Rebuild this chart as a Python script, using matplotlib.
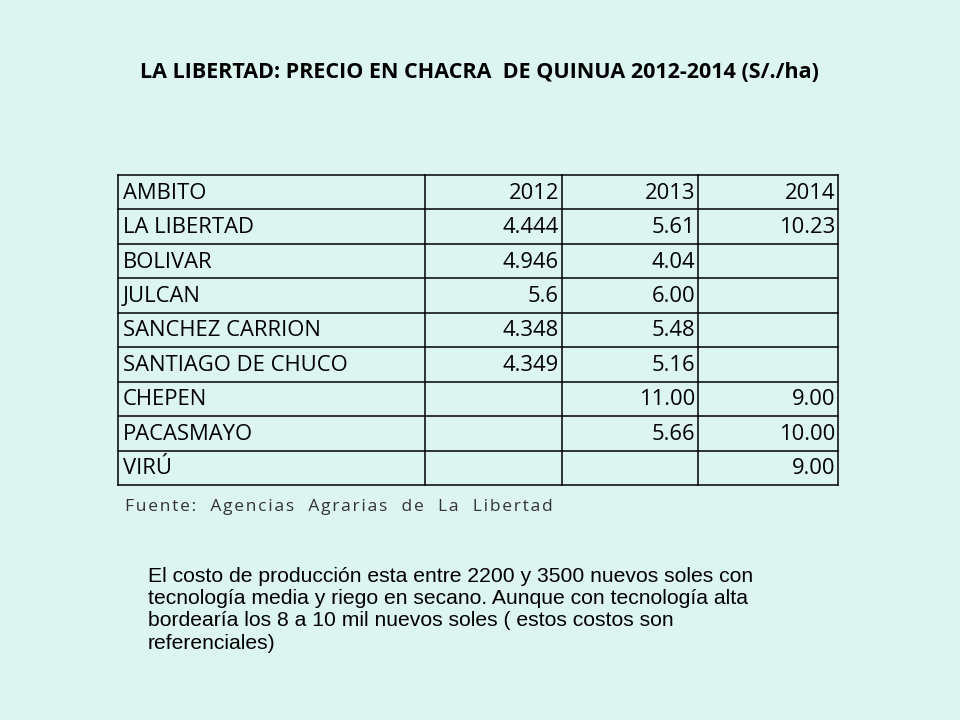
import matplotlib
matplotlib.use("Agg")
import matplotlib.pyplot as plt

title = "LA LIBERTAD: PRECIO EN CHACRA  DE QUINUA 2012-2014 (S/./ha)"
header = ["AMBITO", "2012", "2013", "2014"]
ambitos = ["LA LIBERTAD", "BOLIVAR", "JULCAN", "SANCHEZ CARRION", "SANTIAGO DE CHUCO",
           "CHEPEN", "PACASMAYO", "VIRÚ"]
v2012 = ["4.444", "4.946", "5.6", "4.348", "4.349", "", "", ""]
v2013 = ["5.61", "4.04", "6.00", "5.48", "5.16", "11.00", "5.66", ""]
v2014 = ["10.23", "", "", "", "", "9.00", "10.00", "9.00"]
fuente = "Fuente: Agencias Agrarias de La Libertad"
note = ["El costo de producción esta entre 2200 y 3500 nuevos soles con",
        "tecnología media y riego en secano. Aunque con tecnología alta",
        "bordearía los 8 a 10 mil nuevos soles ( estos costos son",
        "referenciales)"]

bg = "#dcf5f0"
fig = plt.figure(figsize=(9.6, 7.2), dpi=100, facecolor=bg)
ax = fig.add_axes([0, 0, 1, 1])
ax.set_xlim(0, 960); ax.set_ylim(720, 0); ax.axis("off")
ax.set_facecolor(bg)

ax.text(479, 72, title, ha="center", va="center", fontsize=15.5, fontweight="bold",
        family="Open Sans", color="black")

cols = [118, 425, 562, 698, 838]
top, bot = 175, 485
n = 1 + len(ambitos)
rh = (bot - top) / n
for i in range(n + 1):
    ax.plot([cols[0], cols[-1]], [top + i * rh] * 2, color="black", lw=1.1)
for c in cols:
    ax.plot([c, c], [top, bot], color="black", lw=1.1)

rows = [header] + [[a, b, c, d] for a, b, c, d in zip(ambitos, v2012, v2013, v2014)]
for i, r in enumerate(rows):
    y = top + (i + 0.5) * rh + 1
    ax.text(cols[0] + 5, y, r[0], ha="left", va="center", fontsize=15.8, family="Open Sans")
    for j in range(1, 4):
        ax.text(cols[j + 1] - 3, y, r[j], ha="right", va="center", fontsize=15.8, family="Open Sans")

ax.text(125, 507, "  ".join(fuente.split(" ")).replace("", "\u200a")[1:-1], ha="left",
        va="center", fontsize=12.5, family="Open Sans", color="#333333")

for k, line in enumerate(note):
    ax.text(148, 576 + k * 22.5, line, ha="left", va="center", fontsize=15.2,
            family="Liberation Sans")

fig.savefig("out.png", dpi=100, facecolor=bg)
